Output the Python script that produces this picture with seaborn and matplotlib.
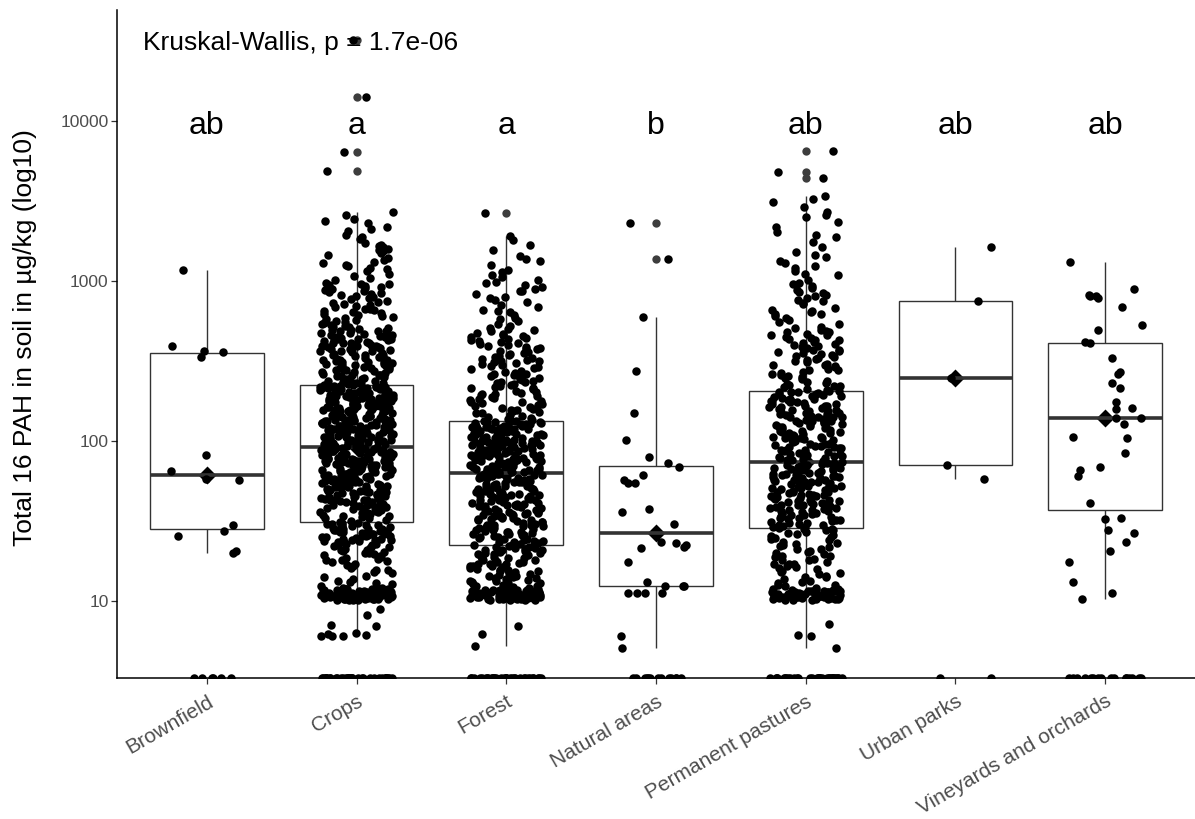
import numpy as np
import pandas as pd
import matplotlib
matplotlib.use("Agg")
import matplotlib.pyplot as plt
import matplotlib.transforms as mtransforms
import seaborn as sns
from matplotlib.ticker import NullLocator

# ---------------- data ----------------
categories = ["Brownfield", "Crops", "Forest", "Natural areas",
              "Permanent pastures", "Urban parks", "Vineyards and orchards"]
letters = ["ab", "a", "a", "b", "ab", "ab", "ab"]
kw_label = "Kruskal-Wallis, p = 1.7e-06"
y_ticks = [10, 100, 1000, 10000]
y_tick_labels = ["10", "100", "1000", "10000"]

# samples below detection limit (shown on the lower edge of the panel)
nondetect_counts = [6, 34, 32, 13, 32, 2, 16]

brownfield = [1170, 390, 366, 360, 333, 82, 65, 58, 57, 30, 27.4, 25.5, 20.5, 19.9]

crops = [
    6.0, 6.1, 6.0, 6.2, 6.0, 7.1, 7.0, 8.9,
    10.2, 10.5, 10.8, 11.0, 11.3, 11.6, 10.4, 10.9, 11.1, 11.8,
    10.3, 10.6, 11.2, 11.5, 10.7, 11.9, 10.1, 11.4, 10.8, 11.0,
    10.5, 11.7, 10.9, 11.3, 10.2, 11.6, 10.6, 11.1, 10.4, 11.8,
    10.7, 11.2, 10.3, 11.5, 10.9, 11.0, 10.5, 11.4, 10.8, 11.9,
    10.1, 11.3, 10.6, 11.7, 10.4, 11.1, 10.7, 11.6, 10.2, 11.2,
    10.9, 11.5, 10.3, 11.8, 10.6, 11.0,
    12.3, 12.9, 13.6, 14.4, 15.2, 16.1, 16.7, 17.4, 18.2, 18.8,
    19.5, 20.3, 20.7, 21.6, 22.1, 22.8, 23.2, 23.9, 24.5, 25.3,
    25.9, 26.4, 27.1, 27.7, 28.3, 28.9, 29.4, 30.2, 30.7, 17.9,
    21.2, 22.5, 24.1, 25.6, 26.9, 28.1, 29.7, 19.1, 23.6, 27.4,
    13.2, 20.9, 30.5, 15.7, 26.1, 24.8,
    6.3, 8.1,
    10.15, 10.35, 10.55, 10.75, 10.95, 11.15, 11.35, 11.55, 11.75, 11.95,
    10.25, 10.45, 10.65, 10.85, 11.05, 11.25, 11.45, 11.65, 11.85, 10.12,
    10.32, 10.52, 10.72, 10.92, 11.12, 11.32, 11.52, 11.72, 10.62, 11.02,
    11.42, 10.82, 11.22, 10.42, 11.62,
    12.1, 12.7, 13.4, 14.1, 14.9, 15.5, 16.4, 17.1, 17.7, 18.5,
    19.3, 19.9, 20.5, 21.4, 21.8, 22.6, 23.4, 23.8, 24.3, 24.9,
    25.5, 26.0, 26.6, 27.2, 27.9, 28.5, 29.1, 29.6, 30.0, 30.4,
    18.0, 20.0, 22.2, 24.0, 26.2, 28.2, 29.9, 25.1,
    31.5, 32.8, 33.4, 34.9, 35.6, 36.2, 37.8, 38.5, 39.1, 40.6,
    41.3, 42.7, 43.5, 44.2, 45.8, 46.4, 47.9, 48.6, 49.3, 50.8,
    51.6, 52.4, 53.9, 54.7, 55.5, 56.8, 57.6, 58.4, 59.9, 60.7,
    61.5, 62.8, 63.6, 64.5, 65.9, 66.8, 67.7, 68.6, 69.9, 70.8,
    71.7, 72.9, 73.8, 74.9, 75.8, 76.9, 77.9, 78.8, 79.9, 80.9,
    82.1, 83.2, 84.4, 85.5, 86.7, 87.8, 88.9, 90.1, 91.2, 91.8,
    34.1, 36.9, 39.7, 42.2, 45.1, 47.3, 50.1, 52.9, 55.1, 58.1,
    61.1, 64.1, 67.2, 70.3, 73.2, 76.3, 79.3, 82.6, 85.9, 89.4,
    33.1, 37.3, 41.8, 46.9, 51.2, 56.3, 62.3, 68.1, 74.4, 81.5,
    88.2, 35.2, 40.2, 44.8, 49.8, 54.2, 59.1, 65.2, 71.2, 77.3,
    84.9, 90.6, 38.1, 43.1, 48.2, 53.4, 57.1, 63.2, 69.4, 75.3,
    31.2, 32.2, 33.7, 34.5, 35.9, 36.6, 37.5, 38.8, 39.5, 40.9,
    41.6, 42.4, 43.8, 44.6, 45.4, 46.1, 47.6, 48.9, 49.6, 50.4,
    51.9, 52.6, 53.1, 54.4, 55.8, 56.5, 57.3, 58.7, 59.5, 60.3,
    61.8, 62.5, 63.9, 64.8, 65.6, 66.4, 67.5, 68.9, 69.6, 70.5,
    71.4, 72.5, 73.5, 74.6, 75.5, 76.6, 77.5, 78.5, 79.6, 80.5,
    81.8, 82.9, 83.8, 84.7, 85.8, 86.9, 87.5, 88.6, 89.8, 90.9,
    91.5, 35.8, 42.9, 48.4, 53.6, 60.1, 66.2, 72.2, 78.2, 84.1,
    89.1, 38.3, 47.1, 57.9, 70.1,
    93.0, 95.2, 97.6, 99.1, 101, 103.5, 105.8, 108, 110.4, 112.9,
    115.3, 117.6, 120.2, 122.8, 125.1, 127.9, 130.4, 133.2, 136, 138.7,
    141.5, 144.6, 147.3, 150.5, 153.4, 156.8, 159.7, 163.1, 166.2, 169.8,
    173.1, 176.7, 180.2, 183.9, 187.5, 191.3, 195.2, 199, 203.1, 207.4,
    211.2, 215.6, 219.8, 223.1, 96.1, 100.2, 104.3, 109.1, 114.2, 119.1,
    124.2, 129.1, 134.5, 139.8, 145.9, 151.8, 158.1, 164.9, 171.5, 178.4,
    185.6, 193.2, 201.1, 209.3, 217.5, 94.3, 98.4, 102.2, 106.9, 111.6,
    116.4, 121.5, 126.6, 131.8, 137.3, 143.1, 149.2, 155.2, 161.5, 168.1,
    174.9, 181.9, 189.4, 197.1, 205.2, 213.3, 221.4, 92.6, 107.5, 118.3,
    128.5, 140.6, 152.7, 165.4, 177.6, 190.7, 204.4, 218.1, 113.5, 123.7,
    135.1, 148.3, 162.3, 179.3, 196.4, 214.2, 132.7, 157.3, 186.2, 210.1,
    92.9, 95.8, 98.9, 102.7, 105.3, 108.6, 111.2, 114.8, 117.1, 120.9,
    123.3, 126.2, 129.7, 132.2, 135.7, 138.2, 142.2, 145.2, 148.7, 151.2,
    154.8, 158.7, 162.6, 165.9, 169.2, 172.6, 175.8, 179.9, 183.1, 187.1,
    190.2, 194.4, 198.1, 202.3, 206.5, 210.7, 214.8, 219.1, 222.6, 97.1,
    101.6, 106.3, 112.4, 116.9, 122.1, 127.3, 133.9, 140.1, 146.6, 153.9,
    160.6, 167.7, 174.1, 182.5, 188.8, 196.9, 204.9, 212.6, 220.7, 99.8,
    110.9, 119.8, 130.9, 143.9, 156.1, 170.7, 184.7, 199.8, 216.4, 104.9,
    124.9, 150.1, 171.1, 194.9, 92.3,
    226, 231, 237, 242, 248, 254, 259, 265, 272, 278,
    285, 291, 298, 305, 312, 319, 327, 334, 342, 350,
    358, 367, 375, 384, 393, 402, 412, 421, 431, 441,
    452, 462, 473, 484, 495, 229, 245, 262, 281, 301,
    322, 346, 371, 397, 426, 457, 489, 251, 288, 331,
    380, 436, 268, 315, 408,
    224.8, 233.5, 244.6, 256.8, 269.3, 283.2, 296.5, 310.4, 325.1, 340.6,
    355.7, 372.3, 389.4, 406.6, 425.3, 444.2, 464.8, 486.1, 498.0, 239.1,
    261.5, 286.4, 312.7, 342.2, 374.1, 410.3, 448.6, 491.2, 252.7, 294.2,
    336.5, 388.1, 446.3, 235.4, 277.5, 320.1, 362.2, 417.7, 471.4, 227.7,
    302.5, 365.8, 432.7, 258.3, 393.6,
    505, 523, 541, 560, 580, 601, 622, 644, 667, 690,
    715, 740, 766, 793, 821, 850, 880, 911, 943, 976,
    532, 612, 703, 808, 928, 571, 655, 862,
    512, 553, 596, 637, 681, 728, 779, 833, 889, 954,
    518, 587, 663, 748, 845, 957, 545, 701, 898, 628,
    1020, 1080, 1150, 1210, 1290, 1360, 1450, 1530, 1620, 1720,
    1820, 1930, 2050, 2170, 2300, 2440, 2590, 2690, 1110, 1400,
    1580, 1250, 1680,
    1050, 1180, 1320, 1490, 1660, 1870, 2110, 2380, 1240, 1550,
    4900, 6400, 14100, 31900,
]

forest = [
    5.2, 6.2, 7.0,
    10.1, 10.4, 10.7, 11.0, 11.3, 11.6, 11.9, 10.2, 10.5, 10.8,
    11.1, 11.4, 11.7, 10.3, 10.6, 10.9, 11.2, 11.5, 11.8, 10.1,
    10.4, 10.7, 11.0, 11.3, 11.6, 10.2, 10.5, 10.8, 11.1, 11.4,
    11.7, 10.3, 10.6, 10.9, 11.2, 11.5, 11.8, 10.5, 11.0, 11.5,
    10.8, 11.3, 10.6, 11.1, 10.9,
    12.2, 12.6, 13.1, 13.5, 13.9, 14.4, 14.8, 15.3, 15.7, 16.2,
    16.6, 17.1, 17.5, 18.0, 18.4, 18.9, 19.3, 19.8, 20.2, 20.7,
    21.1, 21.6, 12.9, 13.7, 14.6, 15.5, 16.4, 17.3, 18.2, 19.1,
    20.0, 20.9, 21.8, 12.4, 14.1, 15.9, 17.7, 19.5, 21.3, 13.3,
    16.9, 20.5,
    10.15, 10.45, 10.75, 11.05, 11.35, 11.65, 11.95, 10.25, 10.55, 10.85,
    11.15, 11.45, 11.75, 10.35, 10.65, 10.95, 11.25, 11.55, 11.85, 10.12,
    10.72, 11.32, 11.62,
    12.3, 12.8, 13.3, 13.8, 14.3, 14.9, 15.4, 16.0, 16.5, 17.0,
    17.6, 18.1, 18.7, 19.2, 19.7, 20.3, 20.8, 21.4, 21.9, 13.0,
    15.1, 18.5,
    22.3, 23.0, 23.8, 24.5, 25.3, 26.1, 26.9, 27.8, 28.6, 29.5,
    30.4, 31.4, 32.4, 33.4, 34.4, 35.5, 36.6, 37.7, 38.9, 40.1,
    41.3, 42.6, 43.9, 45.3, 46.7, 48.1, 49.6, 51.1, 52.7, 54.3,
    56.0, 57.7, 59.5, 61.3, 62.8, 22.7, 24.1, 25.7, 27.3, 29.0,
    30.9, 32.9, 34.9, 37.1, 39.5, 41.9, 44.6, 47.4, 50.3, 53.5,
    56.8, 60.4, 23.4, 26.5, 29.9, 33.9, 38.3, 43.2, 48.8, 55.1,
    62.1, 24.9, 28.2, 31.9, 36.0, 40.7, 45.9, 51.9, 58.6, 25.0,
    30.0, 35.0, 40.0, 45.0, 50.0, 55.0, 60.0, 27.0, 33.0, 39.0,
    46.0, 53.0, 61.0, 28.9, 36.3, 44.1, 52.2, 59.0, 34.1, 47.9,
    22.5, 23.6, 24.7, 25.9, 27.1, 28.4, 29.7, 31.1, 32.6, 34.2,
    35.8, 37.4, 39.2, 41.0, 42.9, 44.9, 47.0, 49.2, 51.5, 53.9,
    56.4, 59.0, 61.7, 62.5, 23.2, 26.3, 29.4, 32.1, 35.2, 38.6,
    42.4, 46.4, 50.9, 55.7, 60.9, 24.4, 30.6, 36.9, 43.8, 52.4,
    57.9, 27.6, 33.7, 40.4, 48.5,
    63.5, 64.9, 66.4, 67.9, 69.4, 71.0, 72.6, 74.2, 75.9, 77.6,
    79.3, 81.1, 82.9, 84.8, 86.7, 88.6, 90.6, 92.7, 94.8, 96.9,
    99.1, 101.3, 103.6, 105.9, 108.3, 110.7, 113.2, 115.8, 118.4, 121.0,
    123.7, 126.5, 129.4, 132.3, 65.6, 68.7, 71.8, 75.1, 78.5, 82.0,
    85.8, 89.7, 93.8, 98.0, 102.5, 107.1, 112.0, 117.1, 122.4, 127.9,
    64.2, 70.2, 76.7, 83.8, 91.6, 100.1, 109.4, 119.6, 130.7, 67.1,
    73.4, 80.2, 87.7, 95.8, 104.7, 114.4, 125.1, 66.0, 77.0, 88.0,
    99.0, 111.0, 124.0, 131.0, 69.9, 81.6, 95.3, 106.5, 120.3, 73.9,
    86.1, 97.5, 116.2, 128.6, 79.9, 91.0, 103.0, 118.0, 84.0, 108.9,
    63.8, 66.9, 70.0, 73.2, 76.4, 79.8, 83.3, 86.9, 90.2, 93.9,
    97.8, 101.8, 106.1, 110.2, 114.8, 119.2, 123.9, 128.1, 132.6, 65.2,
    72.0, 78.9, 85.1, 92.2, 100.6, 108.1, 116.6, 126.1, 68.3, 81.3,
    94.1, 104.0, 112.6, 121.7, 130.1, 74.8, 89.1, 99.5, 111.8, 127.2,
    64.6, 77.9, 96.3, 115.1, 125.6,
    134, 138, 142, 146, 151, 155, 160, 165, 170, 175,
    180, 186, 191, 197, 203, 210, 216, 223, 229, 237,
    244, 251, 259, 267, 275, 284, 292, 301, 311, 320,
    330, 340, 351, 361, 373, 384, 396, 408, 421, 434,
    447, 461, 475, 490, 140, 153, 168, 184, 200, 220,
    240, 263, 288, 315, 345, 378, 414, 453, 497, 158,
    194, 233,
    136, 143, 149, 157, 163, 172, 178, 188, 195, 205,
    213, 226, 234, 247, 256, 271, 281, 296, 306, 325,
    336, 356, 367, 390, 402, 428, 441, 469, 483, 150,
    176, 214, 262, 318, 383,
    510, 540, 575, 610, 645, 690, 735, 780, 830, 885, 940, 990, 560, 660, 760, 870,
    520, 590, 640, 710, 790, 860, 915, 965,
    1020, 1090, 1170, 1250, 1340, 1440, 1550, 1670, 1790, 1910, 1130,
    1060, 1380,
    2650,
]

natural_areas = [2300, 1373, 598, 275, 150, 102, 79, 72.6, 69, 61, 57, 54.5, 54.5,
                 37.4, 36, 30.3, 23.4, 23, 22.5, 21.7, 21.4, 17.6, 13.2, 12.3,
                 12.3, 12.3, 11.2, 11.2, 11.2, 11.2, 6.07, 5.1]

permanent_pastures = [
    5.1, 6.0, 6.1, 7.2,
    10.1, 10.4, 10.7, 11.0, 11.3, 11.6, 11.9, 10.2, 10.5, 10.8,
    11.1, 11.4, 11.7, 10.3, 10.6, 10.9, 11.2, 11.5, 11.8, 10.1,
    10.4, 10.7, 11.0, 11.3, 11.6, 10.2, 10.5, 10.8, 11.1, 11.4,
    11.7, 10.3, 10.6, 10.9, 11.2, 11.5, 10.5, 11.0, 10.8, 11.3,
    12.3, 12.9, 13.6, 14.3, 15.0, 15.8, 16.6, 17.4, 18.3, 19.2,
    20.2, 21.2, 22.3, 23.4, 24.6, 25.8, 27.1, 28.4, 12.6, 14.0,
    15.4, 17.0, 18.7, 20.6, 22.7, 25.0, 27.6, 13.3, 16.2, 19.7,
    23.9, 28.0, 14.7, 21.7, 26.3, 17.9,
    10.15, 10.45, 10.75, 11.05, 11.35, 11.65, 11.95, 10.25, 10.55, 10.85,
    11.15, 11.45, 11.75, 10.35, 10.95, 11.25, 11.55,
    12.5, 13.2, 14.1, 15.1, 16.0, 17.0, 18.1, 19.0, 20.0, 21.0,
    22.0, 23.1, 24.2, 25.4, 26.6, 27.9, 28.2, 16.9,
    28.8, 29.8, 30.8, 31.9, 33.0, 34.2, 35.4, 36.6, 37.9, 39.2,
    40.6, 42.0, 43.5, 45.0, 46.6, 48.2, 49.9, 51.6, 53.4, 55.3,
    57.2, 59.2, 61.3, 63.4, 65.6, 67.9, 70.3, 72.7, 29.3, 31.3,
    33.6, 36.0, 38.5, 41.3, 44.2, 47.4, 50.7, 54.3, 58.2, 62.3,
    66.8, 71.5, 30.3, 34.8, 39.9, 45.8, 52.5, 60.2, 69.1, 32.4,
    37.2, 42.7, 49.0, 56.2, 64.5, 73.5, 35.0, 44.0, 55.0, 68.0,
    30.0, 38.0, 48.0, 60.0, 71.0, 33.3, 41.0, 51.0, 64.0, 40.0,
    46.0, 53.0, 58.0, 66.0, 36.8, 43.0, 50.0, 57.0, 62.0, 70.0,
    29.0, 30.5, 32.1, 33.8, 35.6, 37.5, 39.5, 41.6, 43.8, 46.1,
    48.5, 51.1, 53.8, 56.6, 59.6, 62.8, 66.1, 69.6, 73.1, 31.6,
    36.3, 41.9, 48.1, 55.6, 63.9, 72.0, 34.5, 45.4, 58.6, 67.4,
    40.3, 52.0, 61.1, 32.8, 44.6,
    74.8, 77.3, 79.9, 82.6, 85.4, 88.3, 91.3, 94.4, 97.6, 100.9,
    104.3, 107.8, 111.5, 115.2, 119.1, 123.2, 127.3, 131.7, 136.1, 140.7,
    145.5, 150.4, 155.5, 160.8, 166.2, 171.9, 177.7, 183.7, 189.9, 196.4,
    203.0, 76.0, 81.2, 86.8, 92.8, 99.2, 106.0, 113.3, 121.1, 129.5,
    138.4, 147.9, 158.1, 169.0, 180.7, 193.1, 78.6, 89.8, 102.6, 117.2,
    133.9, 153.0, 174.8, 199.7, 84.0, 96.0, 110.0, 125.0, 143.0, 163.0,
    186.0, 80.5, 95.0, 108.9, 130.0, 148.6, 176.0, 201.0, 87.5, 103.5,
    121.9, 141.9, 165.5, 191.0, 93.0, 114.0, 135.0, 157.0, 182.0, 204.0,
    75.5, 79.2, 83.1, 87.1, 91.4, 95.9, 100.6, 105.5, 110.7, 116.1,
    121.8, 127.8, 134.1, 140.6, 147.5, 154.8, 162.4, 170.4, 178.8, 187.5,
    196.7, 202.5, 77.7, 90.3, 104.9, 122.0, 141.8, 164.8, 191.6, 85.0,
    112.6, 151.0, 98.1, 132.5, 177.1,
    208, 216, 224, 233, 242, 251, 261, 271, 281, 292,
    303, 315, 327, 339, 352, 366, 380, 394, 409, 425,
    441, 458, 476, 494, 212, 237, 265, 296, 331, 370,
    413, 462, 228, 276, 334, 404, 488, 255, 345, 430,
    206, 219, 230, 247, 258, 278, 289, 310, 320, 347,
    359, 388, 398, 435, 446, 482, 220, 300, 372, 468,
    505, 535, 568, 602, 638, 676, 717, 760, 806, 854, 906, 960, 550, 650, 745, 840, 925, 620,
    515, 583, 660, 733, 815, 880, 975, 625, 781,
    1020, 1090, 1160, 1240, 1330, 1420, 1520, 1630, 1750, 1880,
    2020, 2170, 2330, 2500, 2680, 2880, 3100, 3380, 1210,
    1110, 1450, 1930, 2580, 3250, 1290,
    4400, 4800, 6500,
]

urban_parks = [1622, 750, 249, 70.5, 58]

vineyards_orchards = [1321, 895, 818, 809, 800, 787, 688, 533, 494, 416, 408, 330,
                      271, 262, 229, 215, 175, 160, 158, 139, 139, 127, 105, 104,
                      84, 69, 66, 60, 41, 33, 32.4, 27.8, 26.7, 23.4, 20.5, 17.6,
                      13.2, 11.2, 10.3]

series = [brownfield, crops, forest, natural_areas, permanent_pastures,
          urban_parks, vineyards_orchards]

# ---------------- figure ----------------
sns.set_theme(style="ticks")
plt.rcParams["font.family"] = ["Liberation Sans", "DejaVu Sans"]

det = pd.DataFrame([(c, v) for c, vals in zip(categories, series) for v in vals],
                   columns=["landuse", "pah"])

# ggplot-like 5 % expansion of the log10 range
lv = np.log10(det["pah"].to_numpy())
rng = lv.max() - lv.min()
y_lo = 10 ** (lv.min() - 0.05 * rng)
y_hi = 10 ** (lv.max() + 0.05 * rng)

nd = pd.DataFrame([(c, y_lo) for c, n in zip(categories, nondetect_counts) for _ in range(n)],
                  columns=["landuse", "pah"])

W, H = 1195, 819
fig = plt.figure(figsize=(W / 100, H / 100), dpi=100)
ax = fig.add_axes([117 / W, 1 - 678 / H, (1195 - 117) / W, (678 - 10) / H])

sns.boxplot(data=det, x="landuse", y="pah", order=categories, log_scale=True,
            width=0.76, whis=1.5, color="white", saturation=1, linecolor="#333333",
            linewidth=1.0, fliersize=6.0,
            flierprops=dict(marker="o", markerfacecolor="#3d3d3d", markeredgecolor="none"),
            medianprops=dict(linewidth=2.6, color="#333333"),
            capprops=dict(linewidth=0), ax=ax)

np.random.seed(11)
sns.stripplot(data=det, x="landuse", y="pah", order=categories, jitter=0.245,
              size=6.1, color="black", linewidth=0, zorder=3, ax=ax)
sns.stripplot(data=nd, x="landuse", y="pah", order=categories, jitter=0.245,
              size=6.1, color="black", linewidth=0, zorder=3, ax=ax)

sns.pointplot(data=det, x="landuse", y="pah", order=categories, estimator="median",
              errorbar=None, linestyle="none", marker="D", markersize=7,
              color="black", ax=ax)

letter_tf = mtransforms.offset_copy(ax.transData, fig=fig, x=0, y=-5, units="dots")
for i, s in enumerate(letters):
    ax.text(i, 10000, s, transform=letter_tf, ha="center", va="center",
            fontsize=23, color="black", zorder=5)

ax.text(0.024, 0.950, kw_label, transform=ax.transAxes, ha="left", va="center",
        fontsize=19, color="black", zorder=5)

ax.set_xlim(-0.6, 6.6)
ax.set_ylim(y_lo, y_hi)
ax.set_yticks(y_ticks)
ax.set_yticklabels(y_tick_labels)
ax.yaxis.set_minor_locator(NullLocator())
ax.set_xlabel("")
ax.set_ylabel("")
ax.tick_params(axis="both", colors="#333333", length=4, width=0.9,
               labelcolor="#4D4D4D")
ax.tick_params(axis="y", labelsize=12.5, pad=2)
ax.tick_params(axis="x", labelsize=15, pad=6)
for lbl in ax.get_xticklabels():
    lbl.set_rotation(30)
    lbl.set_ha("right")
    lbl.set_rotation_mode("anchor")

sns.despine(ax=ax)
for sp in ("left", "bottom"):
    ax.spines[sp].set_color("black")
    ax.spines[sp].set_linewidth(1.1)

fig.text(25 / W, 1 - 337.5 / H, "Total 16 PAH in soil in µg/kg (log10)",
         rotation=90, ha="center", va="center", fontsize=19, color="black")

fig.savefig("out.png", dpi=100)
